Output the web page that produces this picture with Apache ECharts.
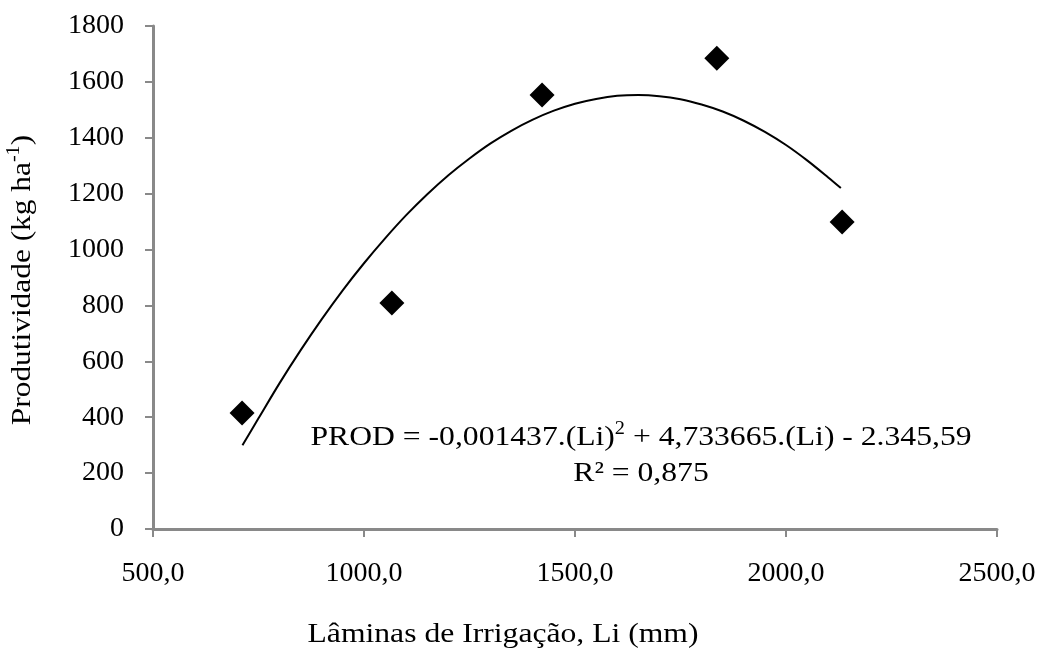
<!DOCTYPE html>
<html>
<head>
<meta charset="utf-8">
<script src="https://cdn.jsdelivr.net/npm/echarts@6/dist/echarts.min.js"></script>
<style>
html,body{margin:0;padding:0;background:#fff;}
#chart{width:1044px;height:648px;}
</style>
</head>
<body>
<div id="chart"></div>
<script>
// Observed points
const irrigation = [711, 1066, 1422, 1836, 2133];
const productivity = [415, 809, 1553, 1685, 1099];
// Trend curve
const curveLi = [712, 750, 800, 850, 900, 950, 1000, 1050, 1100, 1150, 1200, 1250, 1300, 1350, 1400, 1450, 1500, 1550, 1600, 1650, 1700, 1750, 1800, 1850, 1900, 1950, 2000, 2050, 2100, 2130];
const curveProd = [300, 396, 522, 640, 751, 855, 951, 1040, 1123, 1198, 1266, 1326, 1380, 1426, 1465, 1497, 1522, 1539, 1550, 1553, 1549, 1538, 1519, 1494, 1461, 1421, 1374, 1319, 1258, 1220];
// Texts
const xTitle = 'Lâminas de Irrigação, Li (mm)';
const yTitleMain = 'Produtividade (kg ha';
const yTitleSup = '-1';
const eqPart1 = 'PROD = -0,001437.(Li)';
const eqSup = '2';
const eqPart2 = ' + 4,733665.(Li) - 2.345,59';
const r2Text = 'R² = 0,875';

const FONT = 'Liberation Serif';
const chart = echarts.init(document.getElementById('chart'));

const scatterData = irrigation.map((x, i) => [x, productivity[i]]);
const curveData = curveLi.map((x, i) => [x, curveProd[i]]);

chart.setOption({
  backgroundColor: '#fff',
  animation: false,
  textStyle: { fontFamily: FONT },
  grid: { left: 153, right: 47, top: 26, bottom: 119 },
  xAxis: {
    type: 'value', min: 500, max: 2500, interval: 500,
    axisLine: { show: true, lineStyle: { color: '#898989', width: 3 } },
    axisTick: { show: true, length: 8, lineStyle: { color: '#898989', width: 2 } },
    axisLabel: { margin: 31, fontFamily: FONT, fontSize: 28, color: '#000',
      formatter: v => v.toFixed(1).replace('.', ',') },
    splitLine: { show: false }
  },
  yAxis: {
    type: 'value', min: 0, max: 1800, interval: 200,
    axisLine: { show: true, lineStyle: { color: '#898989', width: 3 } },
    axisTick: { show: true, length: 8, lineStyle: { color: '#898989', width: 2 } },
    axisLabel: { margin: 29, fontFamily: FONT, fontSize: 28, color: '#000',
      formatter: v => String(v) },
    splitLine: { show: false }
  },
  series: [
    {
      type: 'line', data: curveData, smooth: 0.3, symbol: 'none',
      lineStyle: { color: '#000', width: 2 }, z: 2
    },
    {
      type: 'scatter', data: scatterData, symbol: 'diamond', symbolSize: 25,
      itemStyle: { color: '#000', opacity: 1 }, z: 3
    }
  ],
  graphic: [
    {
      type: 'text', x: 503, y: 635, scaleX: 1.13,
      style: { text: xTitle, align: 'center', verticalAlign: 'middle',
        fontFamily: FONT, fontSize: 28, fill: '#000' }
    },
    {
      type: 'text', x: 21, y: 280, rotation: Math.PI / 2, scaleX: 1.12,
      style: {
        text: '{m|' + yTitleMain + '}{s|' + yTitleSup + '}{m|)}',
        align: 'center', verticalAlign: 'middle',
        rich: {
          m: { fontFamily: FONT, fontSize: 28, fill: '#000', lineHeight: 32, verticalAlign: 'bottom' },
          s: { fontFamily: FONT, fontSize: 18, fill: '#000', lineHeight: 32, verticalAlign: 'top' }
        }
      }
    },
    {
      type: 'text', x: 641, y: 436, scaleX: 1.13,
      style: {
        text: '{a|' + eqPart1 + '}{b|' + eqSup + '}{a|' + eqPart2 + '}',
        align: 'center', verticalAlign: 'middle',
        rich: {
          a: { fontFamily: FONT, fontSize: 28, fill: '#000', lineHeight: 32, verticalAlign: 'bottom' },
          b: { fontFamily: FONT, fontSize: 18, fill: '#000', lineHeight: 32, verticalAlign: 'top' }
        }
      }
    },
    {
      type: 'text', x: 641, y: 474, scaleX: 1.13,
      style: { text: r2Text, align: 'center', verticalAlign: 'middle',
        fontFamily: FONT, fontSize: 28, fill: '#000' }
    }
  ]
});
</script>
</body>
</html>
